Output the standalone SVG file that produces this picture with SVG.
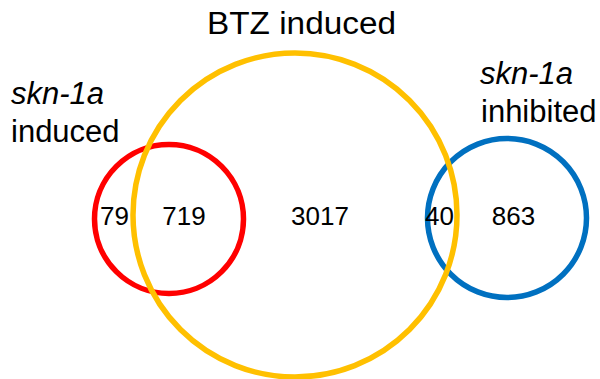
<svg xmlns="http://www.w3.org/2000/svg" width="600" height="379" viewBox="0 0 600 379">
<style>
.set{fill:none;stroke-width:5.5}
.lbl{font-family:"Liberation Sans",Arial,sans-serif;font-size:31px;fill:#000}
.num{font-family:"Liberation Sans",Arial,sans-serif;font-size:26px;fill:#000;text-anchor:middle}
.it{font-style:italic}
</style>
<rect width="600" height="379" fill="#fff"/>
<g id="skn1a-induced">
<circle class="set" cx="169" cy="219" r="74.5" stroke="#FF0000"/>
<text class="lbl it" x="11" y="103.5">skn-1a</text>
<text class="lbl" x="11" y="142">induced</text>
</g>
<g id="skn1a-inhibited">
<circle class="set" cx="507" cy="218" r="79.5" stroke="#0070C0"/>
<text class="lbl it" x="480" y="83.5">skn-1a</text>
<text class="lbl" x="481" y="122">inhibited</text>
</g>
<g id="btz-induced">
<circle class="set" cx="295" cy="215" r="162" stroke="#FFC000"/>
<text class="lbl" x="207" y="34" textLength="189" lengthAdjust="spacingAndGlyphs">BTZ induced</text>
</g>
<g id="counts">
<text class="num" x="114.5" y="225">79</text>
<text class="num" x="184" y="225">719</text>
<text class="num" x="320" y="225">3017</text>
<text class="num" x="439.5" y="225">40</text>
<text class="num" x="513.5" y="225">863</text>
</g>
</svg>
